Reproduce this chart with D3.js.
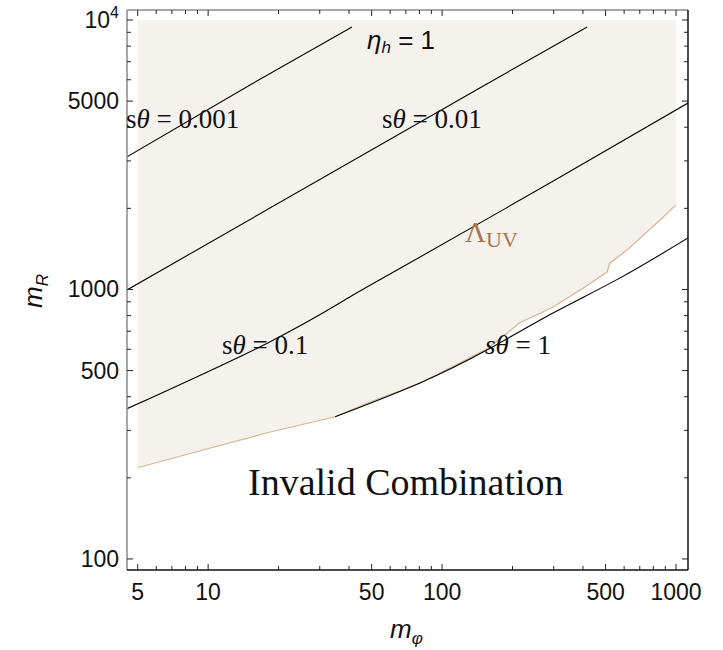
<!DOCTYPE html>
<html lang="en">
<head>
<meta charset="utf-8">
<title>eta_h = 1</title>
<script src="https://cdn.jsdelivr.net/npm/d3@7"></script>
<style>
  body { margin: 0; background: #fff; }
  text { fill: #111; }
</style>
</head>
<body>
<div id="chart"></div>
<script>
// tick values
const xMajor = [5, 10, 50, 100, 500, 1000];
const xMinor = [6, 7, 8, 9, 20, 30, 40, 60, 70, 80, 90, 200, 300, 400, 600, 700, 800, 900];
const yMajor = [100, 500, 1000, 5000, 10000];
const yMinor = [200, 300, 400, 600, 700, 800, 900, 2000, 3000, 4000, 6000, 7000, 8000, 9000];

// Lambda_UV boundary (lower edge of the valid region)
const boundX = [5, 9.24, 17.9, 34.9, 50, 66.2, 80.5, 110, 156, 215, 298, 400, 507, 522, 618, 855, 1000];
const boundY = [218, 252, 294, 337, 385, 421, 450, 515, 603, 752, 861, 1010, 1161, 1254, 1403, 1811, 2060];
const regionTop = 10000;

// s-theta contours
const s0001X = [4.5, 15.1, 41.2];
const s0001Y = [3105, 5740, 9420];
const s001X = [4.5, 150, 417];
const s001Y = [996, 5690, 9420];
const s01X = [4.5, 17.9, 39.3, 66.2, 304, 1125];
const s01Y = [361, 632, 925, 1198, 2547, 4920];
const s1X = [34.9, 80.5, 156, 298, 577, 1125];
const s1Y = [337, 450, 597, 818, 1104, 1553];

const W = 723, H = 650;
const pLeft = 127, pRight = 688, pTop = 10, pBottom = 570;

const svg = d3.select("#chart").append("svg")
  .attr("width", W).attr("height", H);

const x = d3.scaleLog().domain([4.5, 1125]).range([pLeft, pRight]);
const y = d3.scaleLog().domain([91, 10890]).range([pBottom, pTop]);

svg.append("clipPath").attr("id", "plot")
  .append("rect").attr("x", pLeft).attr("y", pTop)
  .attr("width", pRight - pLeft).attr("height", pBottom - pTop);

const g = svg.append("g").attr("clip-path", "url(#plot)");

// shaded valid region
const bound = boundX.map((d, i) => [d, boundY[i]]);
g.append("path")
  .datum(bound)
  .attr("d", d3.area()
    .x(d => x(d[0]))
    .y0(d => y(d[1]))
    .y1(y(regionTop)))
  .attr("fill", "#f5f2ee");

g.append("path")
  .datum(bound)
  .attr("d", d3.line().x(d => x(d[0])).y(d => y(d[1])))
  .attr("fill", "none")
  .attr("stroke", "#d6b48f")
  .attr("stroke-width", 1.2);

// contour lines
const contours = [[s0001X, s0001Y], [s001X, s001Y], [s01X, s01Y], [s1X, s1Y]];
const line = d3.line().x(d => x(d[0])).y(d => y(d[1])).curve(d3.curveNatural);
contours.forEach(c => {
  g.append("path")
    .datum(c[0].map((d, i) => [d, c[1][i]]))
    .attr("d", line)
    .attr("fill", "none")
    .attr("stroke", "#000")
    .attr("stroke-width", 1.1);
});

// frame
svg.append("line").attr("x1", pLeft).attr("x2", pRight).attr("y1", pTop).attr("y2", pTop)
  .attr("stroke", "#8a8a8a").attr("stroke-width", 1.5);
svg.append("line").attr("x1", pLeft).attr("x2", pLeft).attr("y1", pTop).attr("y2", pBottom)
  .attr("stroke", "#8a8a8a").attr("stroke-width", 1.5);
svg.append("line").attr("x1", pLeft).attr("x2", pRight).attr("y1", pBottom).attr("y2", pBottom)
  .attr("stroke", "#111").attr("stroke-width", 1.5);
svg.append("line").attr("x1", pRight).attr("x2", pRight).attr("y1", pTop).attr("y2", pBottom)
  .attr("stroke", "#111").attr("stroke-width", 1.5);

// ticks, all four sides, pointing inward
function xTicks(vals, len) {
  vals.forEach(v => {
    svg.append("line").attr("x1", x(v)).attr("x2", x(v))
      .attr("y1", pBottom).attr("y2", pBottom - len).attr("stroke", "#222");
    svg.append("line").attr("x1", x(v)).attr("x2", x(v))
      .attr("y1", pTop).attr("y2", pTop + len).attr("stroke", "#222");
  });
}
function yTicks(vals, len) {
  vals.forEach(v => {
    svg.append("line").attr("y1", y(v)).attr("y2", y(v))
      .attr("x1", pLeft).attr("x2", pLeft + len).attr("stroke", "#222");
    svg.append("line").attr("y1", y(v)).attr("y2", y(v))
      .attr("x1", pRight).attr("x2", pRight - len).attr("stroke", "#222");
  });
}
xTicks(xMajor, 6); xTicks(xMinor, 4);
yTicks(yMajor, 6); yTicks(yMinor, 4);

const sans = "'Liberation Sans', Arial, sans-serif";
const serif = "'Liberation Serif', 'Times New Roman', serif";

svg.selectAll(".xl").data(xMajor).enter().append("text")
  .attr("x", d => x(d)).attr("y", 600)
  .attr("text-anchor", "middle")
  .attr("font-family", sans).attr("font-size", 23)
  .text(d => d);

yMajor.forEach(v => {
  const t = svg.append("text")
    .attr("x", 119).attr("y", y(v) + 8)
    .attr("text-anchor", "end")
    .attr("font-family", sans).attr("font-size", 23);
  if (v === 10000) {
    t.append("tspan").text("10");
    t.append("tspan").attr("dy", -10).attr("font-size", 16).text("4");
  } else {
    t.text(v);
  }
});

// axis titles
const xt = svg.append("text").attr("x", 390).attr("y", 638)
  .attr("font-family", sans).attr("font-size", 26).attr("font-style", "italic");
xt.append("tspan").text("m");
xt.append("tspan").attr("dy", 6).attr("font-size", 17).text("φ");

const yt = svg.append("text")
  .attr("transform", "translate(42,308) rotate(-90)")
  .attr("font-family", sans).attr("font-size", 26).attr("font-style", "italic");
yt.append("tspan").text("m");
yt.append("tspan").attr("dy", 6).attr("font-size", 17).text("R");

// annotations
const eta = svg.append("text").attr("x", 367).attr("y", 49)
  .attr("font-family", sans).attr("font-size", 26);
eta.append("tspan").attr("font-style", "italic").text("η");
eta.append("tspan").attr("font-style", "italic").attr("font-size", 17).attr("dy", 4).text("h");
eta.append("tspan").attr("dy", -4).text(" = 1");

function sLabel(px, py, val, italicS) {
  const t = svg.append("text").attr("x", px).attr("y", py)
    .attr("font-family", serif).attr("font-size", 27);
  t.append("tspan").attr("font-style", italicS ? "italic" : "normal").text("s");
  t.append("tspan").attr("font-style", "italic").text("θ");
  t.append("tspan").text(" = " + val);
}
sLabel(126, 128, "0.001", false);
sLabel(382, 128, "0.01", false);
sLabel(222, 354, "0.1", false);
sLabel(485, 354, "1", true);

const lam = svg.append("text").attr("x", 465).attr("y", 242)
  .attr("font-family", serif).attr("font-size", 29);
lam.append("tspan").attr("fill", "#a87545").text("Λ");
lam.append("tspan").attr("fill", "#a87545").attr("font-size", 22).attr("dy", 5).text("UV");

svg.append("text").attr("x", 248).attr("y", 495)
  .attr("font-family", serif).attr("font-size", 38)
  .text("Invalid Combination");
</script>
</body>
</html>
